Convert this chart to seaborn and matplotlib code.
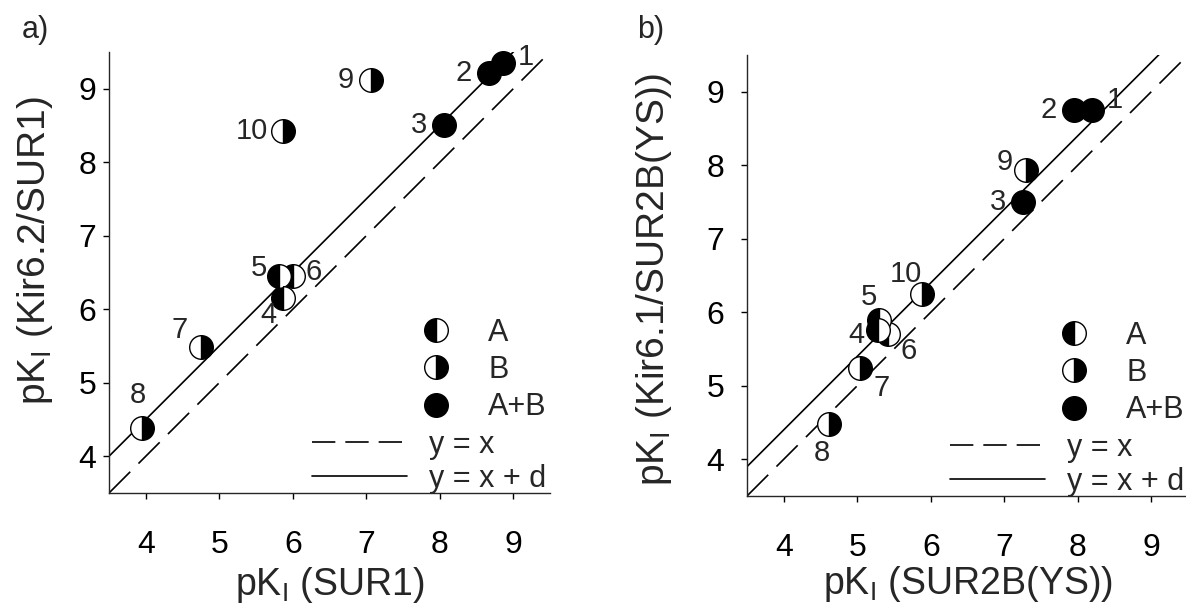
import numpy as np
import pandas as pd
import matplotlib
matplotlib.use("Agg")
import matplotlib.pyplot as plt
import seaborn as sns
from matplotlib.lines import Line2D

# === DATOS ===
compounds = ['1', '2', '3', '4', '5', '6', '7', '8', '9', '10']
groups = ['A+B', 'A+B', 'A+B', 'A', 'A', 'A', 'B', 'B', 'B', 'B']

# panel a: pKI (SUR1) vs pKI (Kir6.2/SUR1)
pki_sur1 = [8.86, 8.67, 8.06, 5.87, 5.81, 6.00, 4.75, 3.95, 7.06, 5.87]
pki_kir62 = [9.35, 9.21, 8.51, 6.15, 6.45, 6.45, 5.49, 4.38, 9.12, 8.43]

# panel b: pKI (SUR2B(YS)) vs pKI (Kir6.1/SUR2B(YS))
pki_sur2b = [8.20, 7.95, 7.25, 5.28, 5.30, 5.42, 5.04, 4.62, 7.30, 5.88]
pki_kir61 = [8.75, 8.75, 7.50, 5.76, 5.90, 5.70, 5.24, 4.48, 7.94, 6.25]

d_a = 0.5
d_b = 0.4

lims = [3.5, 9.5]
ticks = [4, 5, 6, 7, 8, 9]

# desplazamiento (pixeles) de las etiquetas de cada compuesto
offsets_a = {'1': (23, 6), '2': (-25, 0), '3': (-25, 0), '4': (-15, -17),
             '5': (-20, 8), '6': (21, 4), '7': (-21, 17), '8': (-4, 33),
             '9': (-25, 0), '10': (-31, 0)}
offsets_b = {'1': (22, 10), '2': (-25, 0), '3': (-25, 0), '4': (-21, -5),
             '5': (-10, 23), '6': (21, -17), '7': (21, -20), '8': (-7, -29),
             '9': (-22, 8), '10': (-16, 20)}

# === ESTILO ===
sns.set_style("ticks")
plt.rcParams['font.family'] = ['Liberation Sans', 'DejaVu Sans']
plt.rcParams['mathtext.default'] = 'regular'
plt.rcParams['axes.linewidth'] = 1.0

fills = {'A': 'left', 'B': 'right', 'A+B': 'full'}
mk = dict(marker='o', markersize=17, markerfacecolor='black',
          markerfacecoloralt='white', markeredgecolor='black',
          markeredgewidth=1.0)


def draw_panel(ax, xs, ys, d, offsets, xlabel, ylabel, ypad, xlab_y, ylab_x, ylab_y):
    df = pd.DataFrame({'c': compounds, 'g': groups, 'x': xs, 'y': ys}).iloc[::-1]

    # diagonales
    sns.lineplot(x=lims, y=lims, ax=ax, color='black', lw=1.2,
                 linestyle=(0, (18, 7)))
    sns.lineplot(x=lims, y=[v + d for v in lims], ax=ax, color='black', lw=1.2)

    # puntos
    for g, fs in fills.items():
        sub = df[df['g'] == g]
        sns.lineplot(data=sub, x='x', y='y', ax=ax, estimator=None, sort=False,
                     linestyle='', color='black', fillstyle=fs, clip_on=False,
                     zorder=3, **mk)

    for _, r in df.iterrows():
        ax.annotate(r['c'], (r['x'], r['y']), xytext=offsets[r['c']],
                    textcoords='offset pixels', ha='center', va='center',
                    fontsize=21)

    ax.set_xlim(lims)
    ax.set_ylim(lims)
    ax.set_xticks(ticks)
    ax.set_yticks(ticks)
    sns.despine(ax=ax)
    ax.tick_params(direction='out', length=4.3, width=1, labelsize=23,
                   colors='black')
    ax.tick_params(axis='x', pad=22)
    ax.tick_params(axis='y', pad=ypad)
    ax.set_xlabel(xlabel, fontsize=27)
    ax.set_ylabel(ylabel, fontsize=28)
    ax.xaxis.set_label_coords(0.5, xlab_y)
    ax.yaxis.set_label_coords(ylab_x, ylab_y)

    # leyendas
    h_mk = [Line2D([], [], linestyle='', fillstyle=fills[g], label=g, **mk)
            for g in ['A', 'B', 'A+B']]
    leg1 = ax.legend(handles=h_mk, loc='upper left', bbox_to_anchor=(0.7075, 0.397),
                     frameon=False, fontsize=22, borderpad=0, borderaxespad=0,
                     handlelength=1.0, handletextpad=1.2, labelspacing=0.235)
    ax.add_artist(leg1)
    h_ln = [Line2D([], [], color='black', lw=1.2, linestyle=(0, (14, 6)), label='y = x'),
            Line2D([], [], color='black', lw=1.2, label='y = x + d')]
    ax.legend(handles=h_ln, loc='upper left', bbox_to_anchor=(0.460, 0.143),
              frameon=False, fontsize=22, borderpad=0, borderaxespad=0,
              handlelength=3.1, handletextpad=0.75, labelspacing=0.13)


fig = plt.figure(figsize=(11.86, 6.05), dpi=100)
ax_a = fig.add_axes([109 / 1186, 112 / 605, 441 / 1186, 441 / 605])
ax_b = fig.add_axes([747 / 1186, 109 / 605, 441 / 1186, 441 / 605])

draw_panel(ax_a, pki_sur1, pki_kir62, d_a, offsets_a,
           'pK$_I$ (SUR1)', 'pK$_I$ (Kir6.2/SUR1)', 5, -0.163, -0.122, 0.55)
draw_panel(ax_b, pki_sur2b, pki_kir61, d_b, offsets_b,
           'pK$_I$ (SUR2B(YS))', 'pK$_I$ (Kir6.1/SUR2B(YS))', 12, -0.155, -0.166, 0.49)

fig.text(22 / 1186, 1 - 30 / 605, 'a)', ha='left', va='center', fontsize=22)
fig.text(637 / 1186, 1 - 30 / 605, 'b)', ha='left', va='center', fontsize=22)

fig.savefig("out.png", dpi=100)
